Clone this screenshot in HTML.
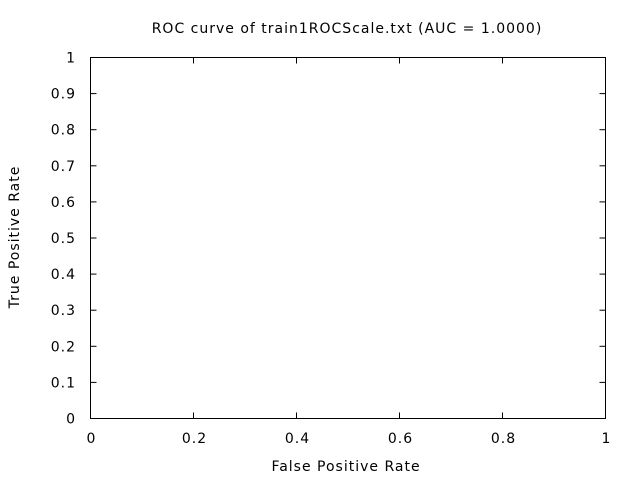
<!DOCTYPE html>
<html><head><meta charset="utf-8"><style>
body{margin:0;background:#fff}
svg text{font-family:"DejaVu Sans","Liberation Sans",sans-serif;font-size:14px;letter-spacing:1px;fill:#000}
</style></head><body>
<svg id="chart" width="640" height="480" viewBox="0 0 640 480" xmlns="http://www.w3.org/2000/svg">
<rect width="640" height="480" fill="#fff"/>
<text x="347" y="33" text-anchor="middle">ROC curve of train1ROCScale.txt (AUC = 1.0000)</text>
<text x="346" y="471" text-anchor="middle">False Positive Rate</text>
<text transform="translate(19,237) rotate(-90)" text-anchor="middle">True Positive Rate</text>
<g id="ticks"></g>
<path id="curve" fill="none" stroke="#000" stroke-width="1"/>
<rect x="90.5" y="57.5" width="515" height="361" fill="none" stroke="#000" stroke-width="1"/>
</svg>
<script>
const xTicks=[0,0.2,0.4,0.6,0.8,1];
const yTicks=[0,0.1,0.2,0.3,0.4,0.5,0.6,0.7,0.8,0.9,1];
const fpr=[0,0,1];
const tpr=[0,1,1];
const L=90.5,R=605.5,T=57.5,B=418.5;
const sx=v=>L+v*(R-L), sy=v=>B-v*(B-T);
const g=document.getElementById('ticks');
const NS='http://www.w3.org/2000/svg';
function line(x1,y1,x2,y2){const l=document.createElementNS(NS,'line');l.setAttribute('x1',x1);l.setAttribute('y1',y1);l.setAttribute('x2',x2);l.setAttribute('y2',y2);l.setAttribute('stroke','#000');


g.appendChild(l);}
function txt(x,y,s,a){const t=document.createElementNS(NS,'text');t.setAttribute('x',x);t.setAttribute('y',y);t.setAttribute('text-anchor',a);t.textContent=s;


g.appendChild(t);}
xTicks.forEach(v=>{const x=sx(v);line(x,B,x,B-6);line(x,T,x,T+6);txt(x+1,443,String(v),'middle');});
yTicks.forEach(v=>{const y=sy(v);line(L,y,L+6,y);line(R,y,R-6,y);txt(76,y+5,String(v),'end');});
document.getElementById('curve').setAttribute('d',fpr.map((v,i)=>(i?'L':'M')+sx(v)+' '+sy(tpr[i])).join(' '));
</script>
</body></html>
